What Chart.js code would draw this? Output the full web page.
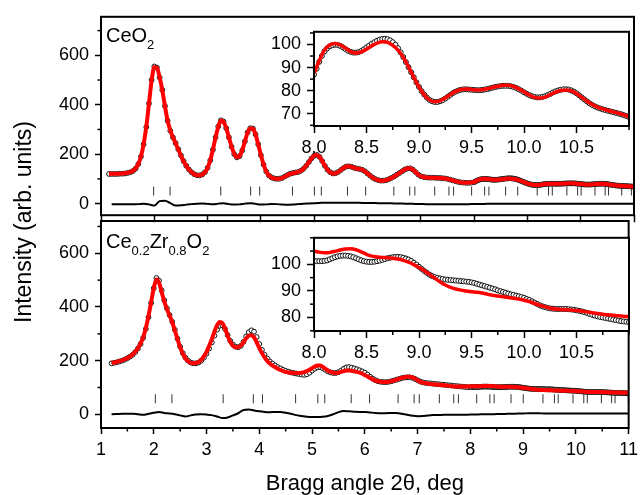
<!DOCTYPE html>
<html>
<head>
<meta charset="utf-8">
<script src="https://cdn.jsdelivr.net/npm/chart.js@4.4.1/dist/chart.umd.min.js"></script>
<style>
  body { margin: 0; background: #fff; }
  #wrap { position: relative; width: 643px; height: 495px; overflow: hidden; }
  #wrap canvas { position: absolute; }
</style>
</head>
<body>
<div id="wrap">
  <canvas id="panelBottom" width="643" height="495" style="left:0;top:0"></canvas>
  <canvas id="panelTop" width="643" height="232" style="left:0;top:0"></canvas>
  <canvas id="insetTop" width="365" height="141" style="left:269px;top:15px"></canvas>
  <canvas id="insetBottom" width="365" height="140" style="left:269px;top:221px"></canvas>
</div>
<script>
// axis ticks
const angleTicks = [1, 2, 3, 4, 5, 6, 7, 8, 9, 10, 11];
const intensityTicks = [0, 200, 400, 600];
const insetAngleTicks = [8.0, 8.5, 9.0, 9.5, 10.0, 10.5];
const ceo2InsetTicks = [70, 80, 90, 100];
const czInsetTicks = [80, 90, 100];

// Bragg reflection positions, 2theta (deg)
const ceo2Bragg = [1.988, 2.296, 3.247, 3.807, 3.977, 4.592, 5.004, 5.134, 5.624, 5.965, 6.494, 6.792,
  6.888, 7.261, 7.528, 7.615, 7.953, 8.198, 8.278, 8.591, 8.818, 9.184, 9.397, 9.467, 9.741, 9.942,
  10.008, 10.268, 10.459, 10.522, 10.769, 10.951];
const czBragg = [2.030, 2.344, 3.315, 3.887, 4.060, 4.688, 5.109, 5.241, 5.742, 6.090, 6.630, 6.934,
  7.032, 7.412, 7.685, 7.774, 8.120, 8.370, 8.451, 8.771, 9.002, 9.376, 9.593, 9.665, 9.945, 10.150,
  10.217, 10.483, 10.677, 10.742, 10.994];

// CeO2: observed / calculated, 1.15..7.95 deg every 0.05
const ceo2Obs = [
  120, 120, 120, 120, 121, 121, 122, 124, 127, 132, 142, 160, 190, 240, 310, 405, 500,
  555, 550, 510, 460, 395, 335, 295, 268, 245, 220, 195, 172, 153, 138, 127, 119, 115, 114, 118, 127,
  145, 175, 218, 268, 312, 337, 332, 305, 268, 230, 200, 187, 192, 215, 252, 288, 305, 304, 280, 240,
  196, 158, 130, 114, 106, 102, 100, 101, 104, 110, 116, 121, 124, 126, 128, 133, 141, 153, 168, 183,
  194, 197, 189, 172, 153, 137, 127, 122, 123, 128, 136, 144, 150, 151, 149, 145, 142, 140, 137, 131,
  122, 113, 105, 99, 95, 93, 93, 95, 99, 104, 110, 117, 124, 131, 138, 142, 143, 138, 128, 118,
  111, 108, 106, 105, 105, 105, 104, 104, 103, 102, 100, 97, 94, 91, 88, 86, 85, 84, 84, 85];
const ceo2Calc = [
  121, 121, 121, 121, 121, 122, 123, 125, 128, 133, 143, 161, 191, 241, 311, 405, 498,
  553, 549, 511, 459, 394, 336, 296, 268, 244, 219, 194, 171, 153, 138, 127, 119, 115, 115, 118, 127,
  145, 176, 219, 268, 311, 336, 331, 305, 268, 231, 201, 188, 193, 216, 252, 287, 304, 303, 279, 240,
  197, 159, 130, 114, 106, 102, 101, 101, 104, 109, 115, 120, 123, 125, 128, 133, 141, 153, 168, 183,
  194, 197, 189, 172, 153, 137, 127, 122, 123, 128, 136, 144, 150, 151, 149, 145, 142, 140, 137, 131,
  122, 113, 105, 99, 95, 93, 93, 95, 99, 104, 110, 117, 124, 131, 138, 142, 143, 138, 128, 118,
  111, 108, 106, 105, 105, 105, 104, 104, 103, 102, 100, 97, 94, 91, 88, 86, 85, 84, 85, 86];
// difference curve, 1.2..11.0 every 0.1
const ceo2Diff = [
  -2, -2, -2, -2, -3, -2, 0, -3,
  -8, 10, 12, 2, -8, -7, -4, -2, 0, 1,
  -1, -3, 0, 2, -2, -4, -3, 0, 2, -1,
  -4, -3, -1, -2, -4, -5, -4, -2, 0, 1,
  2, 3, 4, 4, 4, 4, 4, 4, 4, 3,
  3, 3, 2, 2, 2, 1, 1, 0, 0, -1,
  -1, -2, -2, -2, -2, -3, -3, -2, -2, -2,
  -1, -1, -1, 0, 0, 0, 0, 0, 0, 0,
  0, 0, 0, 0, 0, 0, 0, 0, 0, 0,
  0, 0, 0, 0, 0, 0, 0, 0, 0, 0,
  0];
// CeO2 high-angle part: observed every 0.025, calculated every 0.05, from 8.0
const ceo2InsetObs = [
  87.0, 89.5, 92.5, 95.0, 97.0, 98.3, 99.2, 99.7, 99.9, 99.8, 99.4, 98.8, 98.0, 97.3, 96.8, 96.5, 96.5, 96.7, 97.2, 97.9,
  98.7, 99.5, 100.3, 101.0, 101.6, 102.1, 102.4, 102.5, 102.3, 101.8, 101.0, 99.9, 98.4, 96.6, 94.6, 92.4, 90.2, 88.0, 85.8, 83.6,
  81.6, 79.8, 78.3, 77.0, 76.0, 75.4, 75.1, 75.1, 75.4, 75.9, 76.6, 77.4, 78.2, 79.0, 79.6, 80.1, 80.4, 80.6, 80.6, 80.5,
  80.4, 80.3, 80.2, 80.2, 80.3, 80.5, 80.7, 81.0, 81.3, 81.6, 81.8, 82.0, 82.1, 82.1, 82.1, 81.9, 81.6, 81.2, 80.6, 80.0,
  79.3, 78.7, 78.1, 77.6, 77.3, 77.1, 77.1, 77.3, 77.6, 78.1, 78.6, 79.2, 79.7, 80.1, 80.4, 80.6, 80.6, 80.5, 80.1, 79.6,
  78.9, 78.0, 77.1, 76.2, 75.3, 74.5, 73.8, 73.2, 72.7, 72.3, 71.9, 71.6, 71.3, 71.0, 70.7, 70.4, 70.1, 69.8, 69.4, 69.0,
  68.6];
const ceo2InsetCalc = [
  87.5, 93.0, 97.6, 99.8, 100.4, 99.8, 98.4, 96.9, 96.3, 96.8, 98.0, 99.4, 100.6, 101.2, 100.9, 99.6, 97.6, 94.5, 90.3, 85.8,
  81.6, 78.2, 76.0, 75.2, 75.6, 76.8, 78.4, 79.7, 80.5, 80.7, 80.5, 80.3, 80.4, 80.8, 81.4, 81.9, 82.3, 82.3, 81.8, 80.8,
  79.5, 78.1, 77.1, 76.8, 77.2, 78.3, 79.4, 80.1, 80.3, 79.9, 78.8, 77.1, 75.4, 74.0, 72.9, 72.1, 71.4, 70.8, 70.2, 69.5,
  68.8];

// Ce0.2Zr0.8O2: observed / calculated, 1.20..7.95 deg every 0.05
const czObs = [
  190, 192, 194, 197, 200, 204, 209, 215, 222, 232, 245, 262, 285, 318, 362, 415,
  470, 508, 498, 462, 425, 395, 370, 345, 315, 282, 252, 228, 211, 200, 193, 190, 190, 193, 200, 211,
  226, 245, 268, 293, 315, 330, 332, 318, 295, 274, 260, 252, 250, 255, 270, 290, 306, 313, 308, 288,
  262, 240, 222, 208, 197, 189, 182, 176, 171, 166, 162, 159, 156, 154, 152, 150, 148, 147, 149, 155,
  163, 170, 175, 176, 172, 166, 160, 156, 154, 154, 157, 163, 170, 175, 176, 174, 171, 168, 164, 160,
  155, 148, 140, 133, 127, 123, 121, 120, 120, 121, 123, 126, 129, 132, 135, 137, 138, 138, 136, 132,
  127, 122, 119, 117, 116, 115, 114, 113, 112, 111, 110, 109, 108, 107, 106, 105, 104, 103, 102, 101];
const czCalc = [
  191, 193, 195, 198, 201, 205, 210, 216, 224, 234, 247, 264, 288, 322, 366, 418,
  470, 502, 490, 455, 420, 392, 368, 343, 312, 280, 250, 226, 209, 198, 192, 190, 191, 195, 203, 216,
  233, 255, 280, 308, 332, 344, 340, 320, 293, 270, 256, 250, 250, 256, 268, 283, 293, 295, 287, 268,
  247, 228, 212, 199, 189, 181, 175, 170, 165, 161, 158, 156, 155, 154, 154, 154, 155, 157, 161, 166,
  172, 178, 182, 182, 177, 170, 163, 158, 155, 154, 155, 158, 161, 163, 163, 162, 160, 158, 155, 151,
  146, 141, 135, 130, 126, 123, 121, 120, 120, 121, 123, 126, 129, 133, 136, 138, 140, 140, 138, 133,
  127, 122, 118, 116, 114, 113, 112, 111, 110, 109, 108, 107, 106, 105, 104, 104, 104, 104, 104, 104];
const czDiff = [
  0, 1, 2, 2, 2, 0, -2, 2,
  6, 9, 5, 3, 0, -4, -8, -4, -1, 0,
  -1, -3, -8, -14, -12, -4, 4, 16, 18, 14,
  11, 9, 8, 9, 9, 6, 2, -3, -6, -9,
  -10, -10, -9, -6, 0, 8, 12, 11, 10, 9,
  9, 7, 5, 4, 4, 5, 5, 2, -2, -5,
  -7, -6, -4, -3, -3, -2, -2, -2, -2, -2,
  -1, -1, 0, 0, 0, 1, 1, 2, 2, 3,
  3, 4, 4, 4, 3, 3, 3, 3, 3, 3,
  3, 3, 3, 3, 3, 3, 3, 3, 3, 3,
  3];
const czInsetObs = [
  101.3, 101.2, 101.2, 101.2, 101.3, 101.5, 101.9, 102.3, 102.7, 103.0, 103.2, 103.3, 103.3, 103.2, 103.0, 102.7, 102.3, 101.9, 101.5, 101.2,
  101.0, 100.9, 100.9, 101.0, 101.2, 101.4, 101.7, 102.0, 102.3, 102.5, 102.7, 102.8, 102.8, 102.7, 102.5, 102.2, 101.8, 101.3, 100.6, 99.9,
  99.1, 98.3, 97.5, 96.8, 96.1, 95.6, 95.2, 94.9, 94.7, 94.5, 94.3, 94.2, 94.1, 94.0, 93.9, 93.8, 93.7, 93.6, 93.5, 93.4,
  93.2, 93.0, 92.7, 92.4, 92.1, 91.8, 91.5, 91.2, 90.9, 90.6, 90.2, 89.9, 89.6, 89.3, 89.0, 88.7, 88.5, 88.2, 88.0, 87.7,
  87.4, 87.0, 86.6, 86.1, 85.6, 85.1, 84.6, 84.2, 83.9, 83.6, 83.4, 83.3, 83.2, 83.2, 83.2, 83.2, 83.2, 83.1, 83.0, 82.9,
  82.7, 82.5, 82.3, 82.0, 81.7, 81.3, 81.0, 80.7, 80.4, 80.2, 80.0, 79.8, 79.6, 79.4, 79.2, 79.0, 78.8, 78.6, 78.5, 78.4,
  78.3];
const czInsetCalc = [
  105.0, 104.6, 104.4, 104.5, 104.9, 105.4, 105.8, 105.9, 105.5, 104.7, 103.8, 103.1, 102.8, 102.6, 102.5, 102.3, 102.0, 101.5, 100.8, 99.9,
  98.8, 97.6, 96.2, 94.8, 93.4, 92.2, 91.3, 90.7, 90.3, 90.0, 89.7, 89.5, 89.2, 88.8, 88.4, 88.1, 87.8, 87.5, 87.2, 86.9,
  86.5, 86.0, 85.3, 84.6, 84.0, 83.5, 83.2, 83.0, 82.9, 82.8, 82.6, 82.4, 82.1, 81.8, 81.5, 81.2, 81.0, 80.8, 80.6, 80.5,
  80.3];

const FONT = 'Arial, "Liberation Sans", Helvetica, sans-serif';
const RED = '#ff0000';
Chart.defaults.font.family = FONT;
Chart.defaults.color = '#000';

// evenly spaced sampling angles
function sampleAngles(first, step, count) {
  return Array.from({ length: count }, (_, i) => +(first + i * step).toFixed(3));
}
function points(xs, ys) {
  return ys.map((y, i) => ({ x: xs[i], y: y }));
}
function tickMarks(ys, level) {
  return ys.map(x => ({ x: x, y: level }));
}

// box around the plot area plus short minor ticks
const frame = {
  id: 'frame',
  beforeDraw(chart, args, opts) {
    if (!opts.fill) return;
    const a = chart.chartArea;
    chart.ctx.save();
    chart.ctx.fillStyle = '#fff';
    chart.ctx.fillRect(a.left, a.top, a.right - a.left, a.bottom - a.top);
    chart.ctx.restore();
  },
  afterDraw(chart, args, opts) {
    const { ctx, chartArea: a } = chart;
    ctx.save();
    ctx.strokeStyle = '#000';
    ctx.lineWidth = 1.5;
    const minor = (scale, step, horizontal) => {
      if (!step) return;
      const majors = scale.ticks.map(t => t.value);
      for (let k = Math.ceil(scale.min / step); k * step <= scale.max + 1e-9; k++) {
        const v = k * step;
        if (majors.some(m => Math.abs(m - v) < 1e-6)) continue;
        const p = scale.getPixelForValue(v);
        ctx.beginPath();
        if (horizontal) { ctx.moveTo(p, a.bottom); ctx.lineTo(p, a.bottom + opts.minorLen); }
        else { ctx.moveTo(a.left, p); ctx.lineTo(a.left - opts.minorLen, p); }
        ctx.stroke();
      }
    };
    minor(chart.scales.x, opts.minorX, true);
    minor(chart.scales.y, opts.minorY, false);
    ctx.lineWidth = 2;
    ctx.strokeRect(a.left, a.top, a.right - a.left, a.bottom - a.top);
    ctx.restore();
  }
};

// sample name with subscripts in the upper left corner
const formula = {
  id: 'formula',
  afterDraw(chart, args, opts) {
    if (!opts.parts) return;
    const { ctx, chartArea: a } = chart;
    let x = a.left + opts.dx;
    const y = a.top + opts.dy;
    ctx.save();
    ctx.fillStyle = '#000';
    ctx.textBaseline = 'alphabetic';
    opts.parts.forEach(([text, sub]) => {
      ctx.font = (sub ? 13 : 20) + 'px ' + FONT;
      ctx.fillText(text, x, sub ? y + 7 : y);
      x += ctx.measureText(text).width;
    });
    ctx.restore();
  }
};

// shared vertical axis title
const sideTitle = {
  id: 'sideTitle',
  afterDraw(chart, args, opts) {
    if (!opts.text) return;
    const ctx = chart.ctx;
    ctx.save();
    ctx.translate(opts.x, opts.y);
    ctx.rotate(-Math.PI / 2);
    ctx.font = opts.size + 'px ' + FONT;
    ctx.fillStyle = '#000';
    ctx.textAlign = 'center';
    ctx.textBaseline = 'alphabetic';
    ctx.fillText(opts.text, 0, 0);
    ctx.restore();
  }
};

const tickFont = { family: FONT, size: 18 };
const tickGrid = { drawOnChartArea: false, drawTicks: true, tickLength: 6, tickWidth: 1.5, tickColor: '#000' };

function panelOptions(cfg) {
  return {
    responsive: false,
    animation: false,
    events: [],
    devicePixelRatio: 1,
    layout: { padding: { top: cfg.top, right: 9, left: 0, bottom: 0 } },
    scales: {
      x: {
        type: 'linear', min: 1, max: 11,
        afterBuildTicks: s => { s.ticks = angleTicks.map(v => ({ value: v })); },
        afterFit: s => { s.height = cfg.xHeight; },
        grid: Object.assign({}, tickGrid, { tickLength: cfg.xTickLength }),
        border: { display: false },
        ticks: {
          padding: 5, font: tickFont, maxRotation: 0, autoSkip: false,
          callback: v => cfg.xLabels ? String(v) : ''
        },
        title: {
          display: !!cfg.xTitle, text: cfg.xTitle || '',
          font: { family: FONT, size: 22, lineHeight: 1 }, padding: { top: 0, bottom: 0 }
        }
      },
      y: {
        min: cfg.yMin, max: cfg.yMax,
        afterBuildTicks: s => { s.ticks = intensityTicks.map(v => ({ value: v })); },
        afterFit: s => { s.width = 101; },
        grid: tickGrid,
        border: { display: false },
        ticks: { padding: 6, font: tickFont, callback: v => String(v) }
      }
    },
    plugins: {
      legend: { display: false },
      tooltip: { enabled: false },
      frame: { minorX: cfg.minorX, minorY: 100, minorLen: 3.5 },
      formula: { parts: cfg.parts, dx: 5, dy: cfg.labelDy },
      sideTitle: cfg.sideTitle || {}
    }
  };
}

function insetOptions(cfg) {
  return {
    responsive: false,
    animation: false,
    events: [],
    devicePixelRatio: 1,
    layout: { padding: 0 },
    scales: {
      x: {
        type: 'linear', min: 8, max: 11,
        afterBuildTicks: s => { s.ticks = insetAngleTicks.map(v => ({ value: v })); },
        afterFit: s => { s.height = 30; },
        grid: Object.assign({}, tickGrid, { tickLength: 7 }),
        border: { display: false },
        ticks: { padding: 4, font: tickFont, maxRotation: 0, autoSkip: false, callback: v => v.toFixed(1) }
      },
      y: {
        min: cfg.yMin, max: cfg.yMax,
        afterBuildTicks: s => { s.ticks = cfg.yTicks.map(v => ({ value: v })); },
        afterFit: s => { s.width = 45; },
        grid: Object.assign({}, tickGrid, { tickLength: 7 }),
        border: { display: false },
        ticks: { padding: 6, font: tickFont, callback: v => String(v) }
      }
    },
    plugins: {
      legend: { display: false },
      tooltip: { enabled: false },
      frame: { fill: true, minorX: 0.25, minorY: 5, minorLen: 4 }
    }
  };
}

function patternSets(obs, calc, diff, bragg, braggLevel, lineWidth) {
  return [
    { type: 'line', data: calc, borderColor: RED, borderWidth: lineWidth, pointRadius: 0,
      cubicInterpolationMode: 'monotone', fill: false },
    { type: 'line', data: obs, showLine: false, pointRadius: 2.4, pointBorderWidth: 1,
      pointBorderColor: '#111', pointBackgroundColor: '#fff' },
    { type: 'line', data: diff, borderColor: '#000', borderWidth: 2, pointRadius: 0,
      cubicInterpolationMode: 'monotone', fill: false },
    { type: 'scatter', data: tickMarks(bragg, braggLevel), pointStyle: 'line', rotation: 90,
      pointRadius: 4.5, pointBorderWidth: 1, pointBorderColor: '#333' }
  ];
}

const plugins = [frame, formula, sideTitle];

/* CeO2 - upper panel */
const ceo2ObsPts = points(sampleAngles(1.15, 0.05, ceo2Obs.length), ceo2Obs)
  .concat(points(sampleAngles(8, 0.025, ceo2InsetObs.length), ceo2InsetObs));
const ceo2CalcPts = points(sampleAngles(1.15, 0.05, ceo2Calc.length), ceo2Calc)
  .concat(points(sampleAngles(8, 0.05, ceo2InsetCalc.length), ceo2InsetCalc));
const ceo2DiffPts = points(sampleAngles(1.2, 0.1, ceo2Diff.length), ceo2Diff);

new Chart(document.getElementById('panelTop'), {
  type: 'line',
  data: { datasets: patternSets(ceo2ObsPts, ceo2CalcPts, ceo2DiffPts, ceo2Bragg, 51, 4) },
  options: panelOptions({
    top: 15, xHeight: 11, xTickLength: 7, xLabels: false, minorX: null,
    yMin: -46.8, yMax: 755.8, labelDy: 25,
    parts: [['CeO', false], ['2', true]]
  }),
  plugins: plugins
});

/* Ce0.2Zr0.8O2 - lower panel */
const czObsPts = points(sampleAngles(1.2, 0.05, czObs.length), czObs)
  .concat(points(sampleAngles(8, 0.025, czInsetObs.length), czInsetObs));
const czCalcPts = points(sampleAngles(1.2, 0.05, czCalc.length), czCalc)
  .concat(points(sampleAngles(8, 0.05, czInsetCalc.length), czInsetCalc));
const czDiffPts = points(sampleAngles(1.2, 0.1, czDiff.length), czDiff);

new Chart(document.getElementById('panelBottom'), {
  type: 'line',
  data: { datasets: patternSets(czObsPts, czCalcPts, czDiffPts, czBragg, 58, 4) },
  options: panelOptions({
    top: 221, xHeight: 67, xTickLength: 6, xLabels: true, minorX: 0.5,
    yMin: -51, yMax: 720.4, labelDy: 27,
    xTitle: 'Bragg angle 2θ, deg',
    parts: [['Ce', false], ['0.2', true], ['Zr', false], ['0.8', true], ['O', false], ['2', true]],
    sideTitle: { text: 'Intensity (arb. units)', x: 31, y: 222, size: 23 }
  }),
  plugins: plugins
});

/* insets: high-angle region magnified */
new Chart(document.getElementById('insetTop'), {
  type: 'line',
  data: { datasets: [
    { data: points(sampleAngles(8, 0.05, ceo2InsetCalc.length), ceo2InsetCalc), borderColor: RED,
      borderWidth: 3.5, pointRadius: 0, cubicInterpolationMode: 'monotone' },
    { data: points(sampleAngles(8, 0.025, ceo2InsetObs.length), ceo2InsetObs), showLine: false,
      pointRadius: 2.5, pointBorderWidth: 1, pointBorderColor: '#111', pointBackgroundColor: '#fff' }
  ] },
  options: insetOptions({ yMin: 64.7, yMax: 105.5, yTicks: ceo2InsetTicks }),
  plugins: [frame]
});

new Chart(document.getElementById('insetBottom'), {
  type: 'line',
  data: { datasets: [
    { data: points(sampleAngles(8, 0.05, czInsetCalc.length), czInsetCalc), borderColor: RED,
      borderWidth: 3.5, pointRadius: 0, cubicInterpolationMode: 'monotone' },
    { data: points(sampleAngles(8, 0.025, czInsetObs.length), czInsetObs), showLine: false,
      pointRadius: 2.5, pointBorderWidth: 1, pointBorderColor: '#111', pointBackgroundColor: '#fff' }
  ] },
  options: insetOptions({ yMin: 74.9, yMax: 110, yTicks: czInsetTicks }),
  plugins: [frame]
});
</script>
</body>
</html>
